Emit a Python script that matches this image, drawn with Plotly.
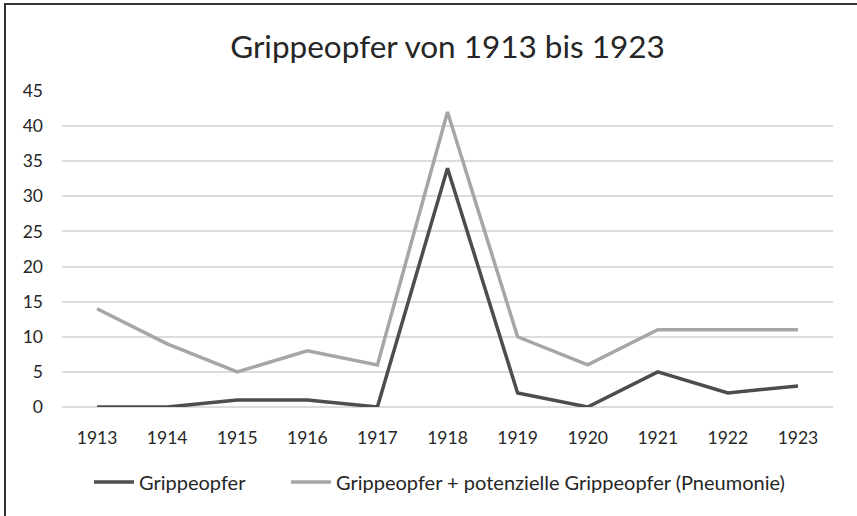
import plotly.graph_objects as go

jahre = ["1913", "1914", "1915", "1916", "1917", "1918", "1919", "1920", "1921", "1922", "1923"]
grippeopfer = [0, 0, 1, 1, 0, 34, 2, 0, 5, 2, 3]
grippeopfer_pneumonie = [14, 9, 5, 8, 6, 42, 10, 6, 11, 11, 11]

schrift = "Lato, 'Open Sans', sans-serif"

fig = go.Figure()
fig.add_trace(go.Scatter(x=jahre, y=grippeopfer, mode="lines", name="Grippeopfer",
                         line=dict(color="#4d4d4d", width=3.5), legend="legend"))
fig.add_trace(go.Scatter(x=jahre, y=grippeopfer_pneumonie, mode="lines",
                         name="Grippeopfer + potenzielle Grippeopfer (Pneumonie)",
                         line=dict(color="#a6a6a6", width=3.5), legend="legend2"))

# zwei Legenden, damit der Abstand zwischen den Eintraegen passt
leg = dict(orientation="h", xanchor="left", y=-0.237, yanchor="middle",
           font=dict(size=20), itemwidth=40, bgcolor="rgba(0,0,0,0)")

fig.update_layout(
    width=857, height=516,
    margin=dict(l=62, r=24, t=91, b=109),
    paper_bgcolor="white", plot_bgcolor="white",
    title=dict(text="Grippeopfer von 1913 bis 1923", x=0.5, xref="paper",
               y=1 - 47 / 516, yanchor="middle",
               font=dict(family=schrift, size=31.5, color="#262626")),
    font=dict(family=schrift, size=17, color="#262626"),
    legend=dict(leg, x=(89 - 62) / 771),
    legend2=dict(leg, x=(286 - 62) / 771),
    showlegend=True,
)
fig.update_xaxes(type="category", range=[-0.5, 10.5], showgrid=False, showline=False,
                 ticks="", ticklabelstandoff=18, tickfont=dict(size=17.5, color="#262626"))
fig.update_yaxes(range=[0, 45], dtick=5, showgrid=True, gridcolor="#dcdcdc", gridwidth=1.5,
                 zeroline=True, zerolinecolor="#dcdcdc", zerolinewidth=1.5,
                 showline=False, ticks="", ticklabelstandoff=18,
                 tickfont=dict(size=17.5, color="#262626"))

# Rahmen um das Diagramm (rechts und unten ausserhalb des Bildes)
fig.add_shape(type="rect", xref="paper", yref="paper",
              x0=(5 - 62) / 771, y0=-0.6, x1=1.2, y1=1 + (91 - 4) / 316,
              line=dict(color="#333333", width=2), fillcolor="rgba(0,0,0,0)", layer="above")

fig.write_html("out.html", config={"displayModeBar": False},
               post_script="document.body.style.margin='0';")
